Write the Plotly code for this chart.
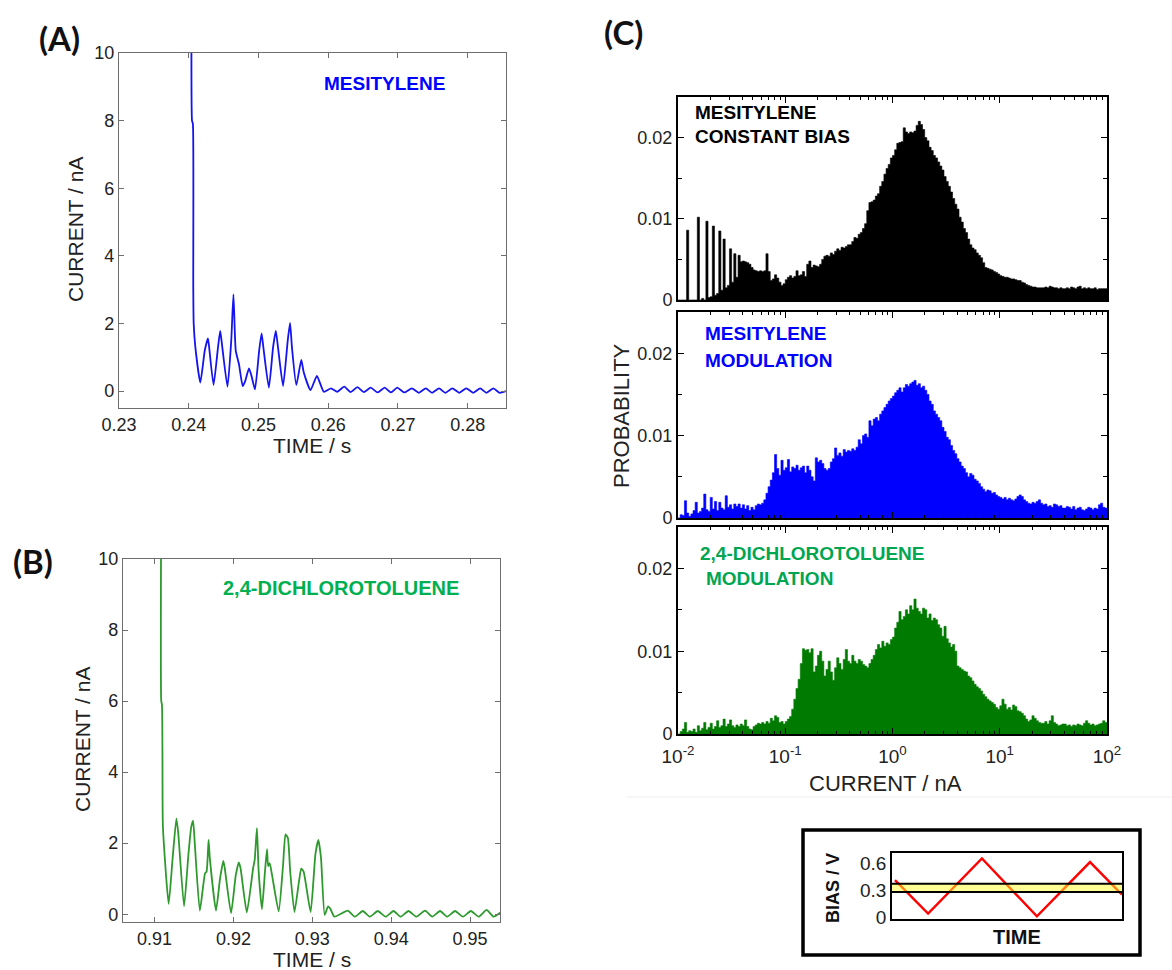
import numpy as np
import plotly.graph_objects as go

W, H = 1172, 970
FONT = "Liberation Sans, Arial, sans-serif"

# ---------------- (A) mesitylene current trace ----------------
TIME_A = [0.24040, 0.24047, 0.24060, 0.24065, 0.24071, 0.24095, 0.24166, 0.24230,
          0.24275, 0.24290, 0.24356, 0.24420, 0.24451, 0.24470, 0.24556, 0.24610,
          0.24641, 0.24674, 0.24720, 0.24774, 0.24807, 0.24864, 0.24900, 0.24950,
          0.25010, 0.25045, 0.25070, 0.25149, 0.25210, 0.25249, 0.25280, 0.25353,
          0.25420, 0.25453, 0.25480, 0.25543, 0.25614, 0.25650, 0.25747, 0.25838,
          0.25937, 0.2604, 0.2613, 0.2623, 0.2632, 0.2642, 0.2651, 0.2661, 0.2671,
          0.2681, 0.2690, 0.2699, 0.2709, 0.2720, 0.2730, 0.2740, 0.2749, 0.2759,
          0.2768, 0.2778, 0.2788, 0.2798, 0.2808, 0.2818, 0.2827, 0.2837, 0.2846,
          0.2855]
CURRENT_A = [12.0, 8.0, 7.9, 3.1, 2.0, 1.3, 0.25, 1.2,
             1.56, 1.35, 0.18, 1.3, 1.78, 1.5, 0.13, 1.5,
             2.86, 1.2, 0.8, 0.15, 0.28, 0.67, 0.45, 0.05,
             1.2, 1.71, 1.3, 0.10, 1.3, 1.78, 1.3, 0.15,
             1.5, 2.02, 1.3, 0.18, 0.92, 0.55, 0.03, 0.45,
             -0.02, 0.08, -0.02, 0.13, -0.03, 0.12, -0.03, 0.10, -0.04,
             0.10, -0.04, 0.10, -0.04, 0.08, -0.05, 0.08, -0.05, 0.08,
             -0.05, 0.08, -0.05, 0.08, -0.05, 0.08, -0.05, 0.08, -0.05,
             0.0]

# ---------------- (B) 2,4-dichlorotoluene current trace ----------------
TIME_B = [0.91085, 0.91085, 0.91094, 0.91100, 0.91106, 0.91179, 0.91230, 0.91277,
          0.91300, 0.91374, 0.91430, 0.91465, 0.91489, 0.91510, 0.91574, 0.91640,
          0.91660, 0.91685, 0.91700, 0.91779, 0.91830, 0.91872, 0.91890, 0.91970,
          0.92030, 0.92068, 0.92090, 0.92170, 0.92250, 0.92270, 0.92298, 0.92320,
          0.92362, 0.92400, 0.92426, 0.92440, 0.92460, 0.92490, 0.92574, 0.92630,
          0.92660, 0.92690, 0.92720, 0.92774, 0.92830, 0.92860, 0.92890, 0.92979,
          0.93040, 0.93077, 0.93110, 0.93157, 0.93200, 0.93230, 0.93280,
          0.9345, 0.9354, 0.9364, 0.9373, 0.9383, 0.9393, 0.9403, 0.9412, 0.9422,
          0.9432, 0.9443, 0.9452, 0.9462, 0.9471, 0.9481, 0.9491, 0.9501, 0.9511,
          0.9521, 0.9530, 0.9540]
CURRENT_B = [12.0, 6.0, 5.9, 4.6, 2.47, 0.29, 1.6, 2.7,
             2.3, 0.22, 1.7, 2.45, 2.63, 2.0, 0.10, 1.15,
             1.2, 2.09, 1.6, 0.10, 1.0, 1.5, 1.3, 0.03,
             1.1, 1.46, 1.3, 0.05, 1.3, 1.53, 2.42, 1.2,
             0.14, 1.2, 1.83, 1.35, 1.44, 1.1, 0.08, 1.4,
             2.25, 2.15, 1.2, 0.06, 0.9, 1.28, 1.2, 0.06,
             1.7, 2.09, 1.6, -0.02, 0.22, 0.15, -0.07,
             0.10, -0.07, 0.09, -0.07, 0.09, -0.07, 0.09, -0.07, 0.09,
             -0.07, 0.10, -0.07, 0.09, -0.07, 0.09, -0.07, 0.09, -0.07,
             0.12, -0.07, 0.07]

# ---------------- (C) conductance histograms ----------------
# 200 bins, 0.02 decade wide, from 10^-2 to 10^2 nA (one row = 0.2 decade)
HIST_CONSTANT = [
    0, 0, 0, 0, 0.0086, 0, 0, 0, 0, 0.0102,
    0, 0.0002, 0, 0.0097, 0.0003, 0.0004, 0.0091, 0.0006, 0.0008, 0.0085,
    0.0012, 0.0075, 0.0015, 0.0018, 0.0063, 0.0022, 0.0057, 0.0028, 0.0055, 0.0047,
    0.0048, 0.0047, 0.0046, 0.0044, 0.0040, 0.0037, 0.0036, 0.0035, 0.0036, 0.0035,
    0.0036, 0.0057, 0.0035, 0.0024, 0.0026, 0.0031, 0.0027, 0.0022, 0.0018, 0.0020,
    0.0025, 0.0028, 0.0030, 0.0027, 0.0029, 0.0036, 0.0030, 0.0031, 0.0035, 0.0029,
    0.0044, 0.0048, 0.0040, 0.0043, 0.0042, 0.0041, 0.0044, 0.0050, 0.0054, 0.0055,
    0.0054, 0.0058, 0.0056, 0.0060, 0.0063, 0.0061, 0.0065, 0.0064, 0.0066, 0.0068,
    0.0068, 0.0072, 0.0077, 0.0076, 0.0081, 0.0083, 0.0088, 0.0094, 0.0110, 0.0120,
    0.0121, 0.0123, 0.0128, 0.0131, 0.0140, 0.0146, 0.0155, 0.0162, 0.0167, 0.0175,
    0.0178, 0.0185, 0.0193, 0.0194, 0.0195, 0.0212, 0.0207, 0.0205, 0.0207, 0.0206,
    0.0208, 0.0215, 0.0220, 0.0216, 0.0210, 0.0200, 0.0196, 0.0188, 0.0184, 0.0178,
    0.0175, 0.0170, 0.0165, 0.0160, 0.0152, 0.0146, 0.0140, 0.0133, 0.0125, 0.0118,
    0.0112, 0.0102, 0.0096, 0.0088, 0.0083, 0.0075, 0.0068, 0.0064, 0.0062, 0.0058,
    0.0055, 0.0052, 0.0046, 0.0040, 0.0039, 0.0038, 0.0037, 0.0035, 0.0034, 0.0032,
    0.0030, 0.0029, 0.0028, 0.0028, 0.0027, 0.0026, 0.0026, 0.0025, 0.0024, 0.0024,
    0.0022, 0.0021, 0.0019, 0.0018, 0.0017, 0.0016, 0.0016, 0.0015, 0.0015, 0.0015,
    0.0015, 0.0016, 0.0015, 0.0017, 0.0016, 0.0015, 0.0015, 0.0014, 0.0015, 0.0014,
    0.0014, 0.0015, 0.0014, 0.0016, 0.0015, 0.0014, 0.0016, 0.0017, 0.0014, 0.0015,
    0.0014, 0.0015, 0.0014, 0.0014, 0.0015, 0.0013, 0.0014, 0.0014, 0.0014, 0.0014,
]
HIST_MESITYLENE_MOD = [
    0.0000, 0.0004, 0.0003, 0.0021, 0.0006, 0.0002, 0.0005, 0.0009, 0.0019, 0.0006,
    0.0008, 0.0012, 0.0029, 0.0010, 0.0008, 0.0025, 0.0011, 0.0020, 0.0009, 0.0019,
    0.0012, 0.0010, 0.0027, 0.0013, 0.0016, 0.0011, 0.0017, 0.0014, 0.0017, 0.0012,
    0.0016, 0.0011, 0.0015, 0.0009, 0.0013, 0.0010, 0.0015, 0.0017, 0.0016, 0.0018,
    0.0022, 0.0030, 0.0038, 0.0046, 0.0055, 0.0077, 0.0060, 0.0052, 0.0070, 0.0058,
    0.0061, 0.0071, 0.0056, 0.0062, 0.0060, 0.0064, 0.0058, 0.0061, 0.0063, 0.0055,
    0.0063, 0.0058, 0.0050, 0.0045, 0.0073, 0.0068, 0.0070, 0.0066, 0.0060, 0.0058,
    0.0060, 0.0068, 0.0072, 0.0085, 0.0076, 0.0079, 0.0075, 0.0083, 0.0080, 0.0082,
    0.0081, 0.0084, 0.0082, 0.0086, 0.0095, 0.0090, 0.0100, 0.0102, 0.0098, 0.0118,
    0.0112, 0.0120, 0.0122, 0.0118, 0.0126, 0.0130, 0.0134, 0.0138, 0.0142, 0.0145,
    0.0148, 0.0152, 0.0155, 0.0158, 0.0153, 0.0158, 0.0162, 0.0160, 0.0163, 0.0165,
    0.0167, 0.0161, 0.0163, 0.0158, 0.0160, 0.0155, 0.0150, 0.0142, 0.0138, 0.0130,
    0.0126, 0.0122, 0.0118, 0.0110, 0.0105, 0.0098, 0.0095, 0.0088, 0.0082, 0.0078,
    0.0072, 0.0068, 0.0063, 0.0060, 0.0055, 0.0050, 0.0054, 0.0052, 0.0047, 0.0045,
    0.0042, 0.0038, 0.0035, 0.0032, 0.0034, 0.0033, 0.0030, 0.0031, 0.0028, 0.0026,
    0.0025, 0.0023, 0.0025, 0.0022, 0.0024, 0.0022, 0.0021, 0.0023, 0.0026, 0.0028,
    0.0026, 0.0022, 0.0020, 0.0018, 0.0017, 0.0019, 0.0018, 0.0020, 0.0022, 0.0018,
    0.0016, 0.0017, 0.0014, 0.0015, 0.0013, 0.0017, 0.0016, 0.0014, 0.0015, 0.0012,
    0.0012, 0.0014, 0.0013, 0.0011, 0.0014, 0.0010, 0.0012, 0.0013, 0.0010, 0.0009,
    0.0011, 0.0013, 0.0012, 0.0010, 0.0012, 0.0011, 0.0016, 0.0018, 0.0013, 0.0012,
]
HIST_DCT_MOD = [
    0.0000, 0.0003, 0.0006, 0.0014, 0.0002, 0.0004, 0.0003, 0.0006, 0.0002, 0.0010,
    0.0004, 0.0007, 0.0014, 0.0005, 0.0008, 0.0013, 0.0006, 0.0009, 0.0016, 0.0008,
    0.0010, 0.0018, 0.0009, 0.0012, 0.0017, 0.0010, 0.0008, 0.0011, 0.0009, 0.0012,
    0.0010, 0.0017, 0.0009, 0.0006, 0.0005, 0.0009, 0.0011, 0.0013, 0.0012, 0.0014,
    0.0012, 0.0015, 0.0013, 0.0019, 0.0016, 0.0022, 0.0020, 0.0014, 0.0015, 0.0012,
    0.0015, 0.0018, 0.0021, 0.0030, 0.0042, 0.0055, 0.0066, 0.0085, 0.0103, 0.0101,
    0.0102, 0.0098, 0.0103, 0.0075, 0.0082, 0.0095, 0.0100, 0.0088, 0.0070, 0.0078,
    0.0088, 0.0075, 0.0065, 0.0080, 0.0092, 0.0085, 0.0078, 0.0090, 0.0102, 0.0088,
    0.0085, 0.0095, 0.0088, 0.0085, 0.0090, 0.0088, 0.0084, 0.0082, 0.0080, 0.0085,
    0.0090, 0.0095, 0.0102, 0.0108, 0.0104, 0.0112, 0.0106, 0.0110, 0.0108, 0.0114,
    0.0117, 0.0128, 0.0135, 0.0148, 0.0138, 0.0142, 0.0150, 0.0145, 0.0155, 0.0150,
    0.0163, 0.0152, 0.0148, 0.0145, 0.0152, 0.0150, 0.0140, 0.0145, 0.0137, 0.0140,
    0.0138, 0.0132, 0.0128, 0.0118, 0.0130, 0.0115, 0.0110, 0.0105, 0.0108, 0.0100,
    0.0082, 0.0080, 0.0078, 0.0076, 0.0075, 0.0070, 0.0068, 0.0064, 0.0060, 0.0057,
    0.0055, 0.0052, 0.0048, 0.0045, 0.0042, 0.0040, 0.0038, 0.0036, 0.0032, 0.0030,
    0.0034, 0.0042, 0.0036, 0.0030, 0.0032, 0.0029, 0.0035, 0.0033, 0.0028, 0.0027,
    0.0025, 0.0022, 0.0018, 0.0015, 0.0017, 0.0022, 0.0019, 0.0016, 0.0014, 0.0013,
    0.0013, 0.0015, 0.0012, 0.0016, 0.0022, 0.0014, 0.0012, 0.0010, 0.0011, 0.0012,
    0.0012, 0.0010, 0.0011, 0.0009, 0.0011, 0.0010, 0.0012, 0.0011, 0.0010, 0.0013,
    0.0016, 0.0013, 0.0011, 0.0012, 0.0010, 0.0011, 0.0012, 0.0013, 0.0016, 0.0014,
]
LOG_EDGES = np.linspace(-2, 2, len(HIST_CONSTANT) + 1)

# ---------------- inset: bias waveforms ----------------
BIAS_TIME = [0.013, 0.157, 0.391, 0.630, 0.861, 1.0]
BIAS_VOLT = [0.41, 0.04, 0.65, 0.01, 0.61, 0.25]
CONST_BIAS_TIME = [0.0, 1.0]
CONST_BIAS_LOW = [0.28, 0.28]
CONST_BIAS_HIGH = [0.37, 0.37]


def px(x):
    return x / W


def py(y):
    return 1 - y / H


fig = go.Figure()

# trace panels
fig.add_trace(go.Scatter(x=TIME_A, y=CURRENT_A, mode="lines",
                         line=dict(color="#1414f0", width=1.8, shape="spline",
                                   smoothing=0.5),
                         xaxis="x", yaxis="y", showlegend=False))
fig.add_trace(go.Scatter(x=TIME_B, y=CURRENT_B, mode="lines",
                         line=dict(color="#2e9a2e", width=1.8, shape="spline",
                                   smoothing=0.5),
                         xaxis="x2", yaxis="y2", showlegend=False))

# histograms as filled step curves
edges_nA = 10 ** LOG_EDGES
for hist, color, xa, ya in [(HIST_CONSTANT, "#000000", "x3", "y3"),
                            (HIST_MESITYLENE_MOD, "#0000ff", "x4", "y4"),
                            (HIST_DCT_MOD, "#007a00", "x5", "y5")]:
    yv = list(hist) + [hist[-1]]
    fig.add_trace(go.Scatter(x=edges_nA, y=yv, mode="lines", line_shape="hv",
                             line=dict(color=color, width=0.6),
                             fill="tozeroy", fillcolor=color,
                             xaxis=xa, yaxis=ya, showlegend=False))

# inset waveforms
fig.add_trace(go.Scatter(x=BIAS_TIME, y=BIAS_VOLT, mode="lines",
                         line=dict(color="#ff0000", width=2.4),
                         xaxis="x6", yaxis="y6", showlegend=False))
fig.add_trace(go.Scatter(x=CONST_BIAS_TIME, y=CONST_BIAS_HIGH, mode="lines",
                         line=dict(color="#000000", width=2),
                         xaxis="x6", yaxis="y6", showlegend=False))
fig.add_trace(go.Scatter(x=CONST_BIAS_TIME, y=CONST_BIAS_LOW, mode="lines",
                         line=dict(color="#000000", width=2),
                         fill="tonexty", fillcolor="rgba(255,255,40,0.5)",
                         xaxis="x6", yaxis="y6", showlegend=False))

tick_font_ab = dict(family=FONT, size=18, color="#222222")
common_ab = dict(showgrid=False, zeroline=False, showline=True, mirror="ticks",
                 linecolor="#6e6e6e", linewidth=1.3, ticks="inside", ticklen=5,
                 tickcolor="#6e6e6e", tickfont=tick_font_ab, automargin=False)

log_ticks = [0.01, 0.1, 1, 10, 100]
log_text = ["10<sup>-2</sup>", "10<sup>-1</sup>", "10<sup>0</sup>",
            "10<sup>1</sup>", "10<sup>2</sup>"]
minor_log = [m * 10.0 ** k for k in range(-2, 2) for m in range(2, 10)]

common_cx = dict(type="log", range=[-2, 2], showgrid=False, zeroline=False,
                 showline=True, mirror="ticks", linecolor="#000000", linewidth=2,
                 ticks="inside", ticklen=6, tickcolor="#000000", automargin=False,
                 tickvals=log_ticks, ticktext=log_text, ticklabelstandoff=4,
                 tickfont=dict(family=FONT, size=19, color="#222222"),
                 minor=dict(tickmode="array", tickvals=minor_log, ticks="inside",
                            ticklen=3, tickcolor="#000000", showgrid=False))
common_cy = dict(range=[0, 0.025], showgrid=False, zeroline=False, showline=True,
                 mirror="ticks", linecolor="#000000", linewidth=2, automargin=False,
                 ticks="inside", ticklen=6, tickcolor="#000000",
                 tickvals=[0, 0.01, 0.02], ticktext=["0", "0.01", "0.02"],
                 tickfont=dict(family=FONT, size=18, color="#222222"),
                 minor=dict(tickmode="array", tickvals=[0.005, 0.015],
                            ticks="inside", ticklen=4, tickcolor="#000000",
                            showgrid=False))

c_top, c_bot = 97, 300
c2_top, c2_bot = 312, 518
c3_top, c3_bot = 527, 734

fig.update_layout(
    width=W, height=H, autosize=False,
    margin=dict(l=0, r=0, t=0, b=0, pad=0, autoexpand=False),
    paper_bgcolor="white", plot_bgcolor="white", showlegend=False,
    xaxis=dict(domain=[px(119), px(506)], range=[0.23, 0.2855],
               tickvals=[0.23, 0.24, 0.25, 0.26, 0.27, 0.28], anchor="y", **common_ab),
    yaxis=dict(domain=[py(408), py(53)], range=[-0.5, 10],
               tickvals=[0, 2, 4, 6, 8, 10], anchor="x", **common_ab),
    xaxis2=dict(domain=[px(123), px(500)], range=[0.906, 0.9538],
                tickvals=[0.91, 0.92, 0.93, 0.94, 0.95], anchor="y2", **common_ab),
    yaxis2=dict(domain=[py(922), py(559)], range=[-0.22, 10],
                tickvals=[0, 2, 4, 6, 8, 10], anchor="x2", **common_ab),
    xaxis3=dict(domain=[px(678), px(1107)], anchor="y3", showticklabels=False, **common_cx),
    yaxis3=dict(domain=[py(c_bot), py(c_top)], anchor="x3", **common_cy),
    xaxis4=dict(domain=[px(678), px(1107)], anchor="y4", showticklabels=False, **common_cx),
    yaxis4=dict(domain=[py(c2_bot), py(c2_top)], anchor="x4", **common_cy),
    xaxis5=dict(domain=[px(678), px(1107)], anchor="y5", showticklabels=True, **common_cx),
    yaxis5=dict(domain=[py(c3_bot), py(c3_top)], anchor="x5", **common_cy),
    xaxis6=dict(domain=[px(892), px(1122)], range=[0, 1], anchor="y6", automargin=False,
                showgrid=False, zeroline=False, showline=True, mirror=True,
                linecolor="#000000", linewidth=1.6, ticks="", showticklabels=False),
    yaxis6=dict(domain=[py(919), py(853)], range=[-0.02, 0.71], anchor="x6",
                automargin=False,
                showgrid=False, zeroline=False, showline=True, mirror=True,
                linecolor="#000000", linewidth=1.6, ticks="",
                tickvals=[0, 0.3, 0.6], ticktext=["0", "0.3", "0.6"],
                tickfont=dict(family=FONT, size=19, color="#222222")),
)


def label(text, x, y, size, color="#222222", bold=False, angle=0, xanchor="center",
          family=FONT):
    if bold:
        text = "<b>" + text + "</b>"
    fig.add_annotation(text=text, x=px(x), y=py(y), xref="paper", yref="paper",
                       xanchor=xanchor, yanchor="middle", showarrow=False,
                       textangle=angle,
                       font=dict(family=family, size=size, color=color))


# panel letters
PANEL_FONT = "Lato, Open Sans, sans-serif"
label("(A)", 59, 38, 33, "#111111", True, family=PANEL_FONT)
label("(B)", 33, 561, 33, "#111111", True, family=PANEL_FONT)
label("(C)", 623, 32, 33, "#111111", True, family=PANEL_FONT)

# axis titles
label("CURRENT / nA", 75, 230, 21, angle=-90)
label("TIME / s", 312, 446, 21)
label("CURRENT / nA", 82, 740, 21, angle=-90)
label("TIME / s", 312, 959, 21)
label("PROBABILITY", 621, 415, 22, angle=-90)
label("CURRENT / nA", 885, 783, 22)

# molecule tags
label("MESITYLENE", 322, 83, 19, "#0000ff", True, xanchor="left")
label("2,4-DICHLOROTOLUENE", 221, 588, 20, "#00b050", True, xanchor="left")
label("MESITYLENE", 693, 112, 19, "#000000", True, xanchor="left")
label("CONSTANT BIAS", 693, 137, 19, "#000000", True, xanchor="left")
label("MESITYLENE", 703, 333, 19, "#0000ff", True, xanchor="left")
label("MODULATION", 703, 360, 19, "#0000ff", True, xanchor="left")
label("2,4-DICHLOROTOLUENE", 698, 553, 19, "#00a651", True, xanchor="left")
label("MODULATION", 704, 578, 19, "#00a651", True, xanchor="left")

# inset texts
label("BIAS / V", 833, 888, 18, "#111111", True, angle=-90)
label("TIME", 1017, 937, 20, "#111111", True)

# inset outer frame and faint separator
fig.add_shape(type="rect", xref="paper", yref="paper",
              x0=px(803), x1=px(1140), y0=py(955), y1=py(830),
              line=dict(color="#000000", width=3.5))
fig.add_shape(type="line", xref="paper", yref="paper",
              x0=px(627), x1=px(1172), y0=py(797), y1=py(797),
              line=dict(color="#eeeeee", width=1))

fig.write_html("out.html")
